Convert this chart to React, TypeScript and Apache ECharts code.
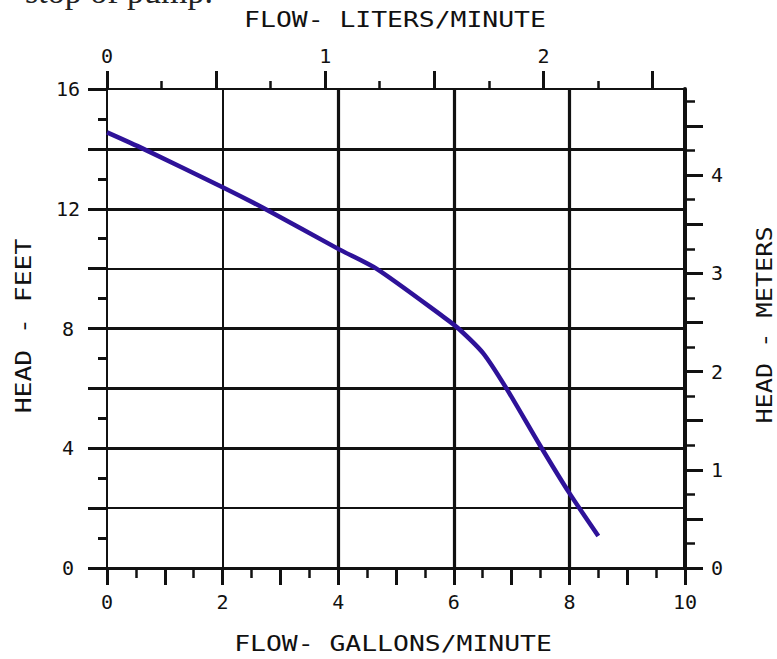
import React, { useEffect, useRef } from "react";
import * as echarts from "echarts";

// Pump curve: flow (gal/min) vs head (ft)
const flowGpm = [0, 0.63, 2, 2.73, 4, 4.66, 5.82, 6.08, 6.51, 6.91, 7.49, 8.0, 8.5];
const headFt = [14.55, 14.0, 12.72, 12.0, 10.66, 10.0, 8.39, 8.0, 7.17, 6.0, 4.1, 2.5, 1.07];

// Axes
const gpmMax = 10;
const ftMax = 16;
const mMax = 16 * 0.3048;
const topMax = 2.649;

const bottomMajorTicks = [0, 1, 2, 3, 4, 5, 6, 7, 8, 9, 10];
const bottomMinorTicks = [0.5, 1.5, 2.5, 3.5, 4.5, 5.5, 6.5, 7.5, 8.5, 9.5];
const bottomLabels = [0, 2, 4, 6, 8, 10];

const topMajorTicks = [0, 0.5, 1, 1.5, 2, 2.5];
const topMinorTicks = [0.25, 0.75, 1.25, 1.75, 2.25];
const topLabels = [0, 1, 2];

const leftMajorTicks = [0, 2, 4, 6, 8, 10, 12, 14, 16];
const leftMinorTicks = [1, 3, 5, 7, 9, 11, 13, 15];
const leftLabels = [0, 4, 8, 12, 16];

const rightMajorTicks = [0, 0.5, 1, 1.5, 2, 2.5, 3, 3.5, 4, 4.5];
const rightMinorTicks = [0.25, 0.75, 1.25, 1.75, 2.25, 2.75, 3.25, 3.75, 4.25, 4.75];
const rightLabels = [0, 1, 2, 3, 4];

// Grid lines
const hGridFt = [2, 4, 6, 8, 10, 12, 14];
const vGridGpm = [2, 4, 6, 8];
const thinH = [2, 10];
const thinV = [2];

const FONT = "DejaVu Sans Mono";
const INK = "#111";

export default function App() {
  const ref = useRef<HTMLDivElement>(null);
  useEffect(() => {
    document.body.style.margin = "0";
    const chart = echarts.init(ref.current!, undefined, { renderer: "svg" });
    const labelStyle = { fontFamily: FONT, fontSize: 20, color: INK };
    const curve = flowGpm.map((x, i) => [x, headFt[i]]);

    const markData: any[] = [];
    hGridFt.forEach((v) =>
      markData.push({ yAxis: v, lineStyle: { width: thinH.includes(v) ? 2 : 3.2, type: "solid", color: INK } })
    );
    vGridGpm.forEach((v) =>
      markData.push({ xAxis: v, lineStyle: { width: thinV.includes(v) ? 2 : 3.2, type: "solid", color: INK } })
    );

    const rect = { left: 107, right: 92, top: 89, bottom: 91, containLabel: false };
    const minorAxis = (pos: string, min: number, max: number, ticks: number[], len: number, w: number) => ({
      type: "value", gridIndex: 1, position: pos, min, max,
      axisLine: { show: false, onZero: false },
      axisTick: { show: true, inside: false, customValues: ticks, length: len, lineStyle: { color: INK, width: w } },
      axisLabel: { show: false },
      splitLine: { show: false },
    });

    const option: any = {
      animation: false,
      backgroundColor: "#fff",
      grid: [rect, { ...rect }],
      xAxis: [
        {
          type: "value", gridIndex: 0, position: "bottom", min: 0, max: gpmMax,
          axisLine: { show: true, onZero: false, lineStyle: { color: INK, width: 3 } },
          axisTick: { show: true, customValues: bottomMajorTicks, length: 17, lineStyle: { color: INK, width: 3 } },
          axisLabel: { show: true, customValues: bottomLabels, margin: 24, ...labelStyle },
          splitLine: { show: false },
        },
        {
          type: "value", gridIndex: 0, position: "top", min: 0, max: topMax,
          axisLine: { show: true, onZero: false, lineStyle: { color: INK, width: 2 } },
          axisTick: { show: true, customValues: topMajorTicks, length: 18, lineStyle: { color: INK, width: 3 } },
          axisLabel: { show: true, customValues: topLabels, margin: 23, ...labelStyle },
          splitLine: { show: false },
        },
        minorAxis("bottom", 0, gpmMax, bottomMinorTicks, 10, 2.5),
        minorAxis("top", 0, topMax, topMinorTicks, 8, 2.5),
      ],
      yAxis: [
        {
          type: "value", gridIndex: 0, position: "left", min: 0, max: ftMax,
          axisLine: { show: true, onZero: false, lineStyle: { color: INK, width: 2 } },
          axisTick: { show: true, customValues: leftMajorTicks, length: 19, lineStyle: { color: INK, width: 3 } },
          axisLabel: { show: true, customValues: leftLabels, margin: 39, align: "center", ...labelStyle },
          splitLine: { show: false },
        },
        {
          type: "value", gridIndex: 0, position: "right", min: 0, max: mMax,
          axisLine: { show: true, onZero: false, lineStyle: { color: INK, width: 4 } },
          axisTick: { show: true, customValues: rightMajorTicks, length: 18, lineStyle: { color: INK, width: 3 } },
          axisLabel: { show: true, customValues: rightLabels, margin: 26, align: "left", ...labelStyle },
          splitLine: { show: false },
        },
        minorAxis("left", 0, ftMax, leftMinorTicks, 9, 3),
        minorAxis("right", 0, mMax, rightMinorTicks, 10, 2.5),
      ],
      series: [
        {
          type: "line", xAxisIndex: 0, yAxisIndex: 0, data: curve, z: 1,
          showSymbol: false, symbol: "none", silent: true,
          lineStyle: { opacity: 0, width: 0 },
          markLine: { symbol: ["none", "none"], silent: true, label: { show: false }, data: markData },
        },
        {
          type: "line", xAxisIndex: 0, yAxisIndex: 0, data: curve, z: 5,
          showSymbol: false, symbol: "none", smooth: 0.25,
          lineStyle: { color: "#2e1299", width: 4.5 },
        },
      ],
      graphic: [
        {
          type: "text", left: 25, top: -26,
          style: { text: "stop of pump.", fontFamily: "Liberation Serif", fontSize: 34, fill: "#222" },
        },
        {
          type: "text", x: 395, y: 19, scaleX: 1.2,
          style: { text: "FLOW- LITERS/MINUTE", fontFamily: FONT, fontSize: 22, fill: INK, align: "center", verticalAlign: "middle" },
        },
        {
          type: "text", x: 393, y: 643, scaleX: 1.2,
          style: { text: "FLOW- GALLONS/MINUTE", fontFamily: FONT, fontSize: 22, fill: INK, align: "center", verticalAlign: "middle" },
        },
        {
          type: "text", x: 23, y: 326, scaleX: 1.2, rotation: Math.PI / 2,
          style: { text: "HEAD - FEET", fontFamily: FONT, fontSize: 22, fill: INK, align: "center", verticalAlign: "middle" },
        },
        {
          type: "text", x: 764, y: 325, scaleX: 1.2, rotation: Math.PI / 2,
          style: { text: "HEAD - METERS", fontFamily: FONT, fontSize: 21, fill: INK, align: "center", verticalAlign: "middle" },
        },
      ],
    };
    chart.setOption(option);
    return () => chart.dispose();
  }, []);
  return <div ref={ref} style={{ width: 777, height: 659 }} />;
}
